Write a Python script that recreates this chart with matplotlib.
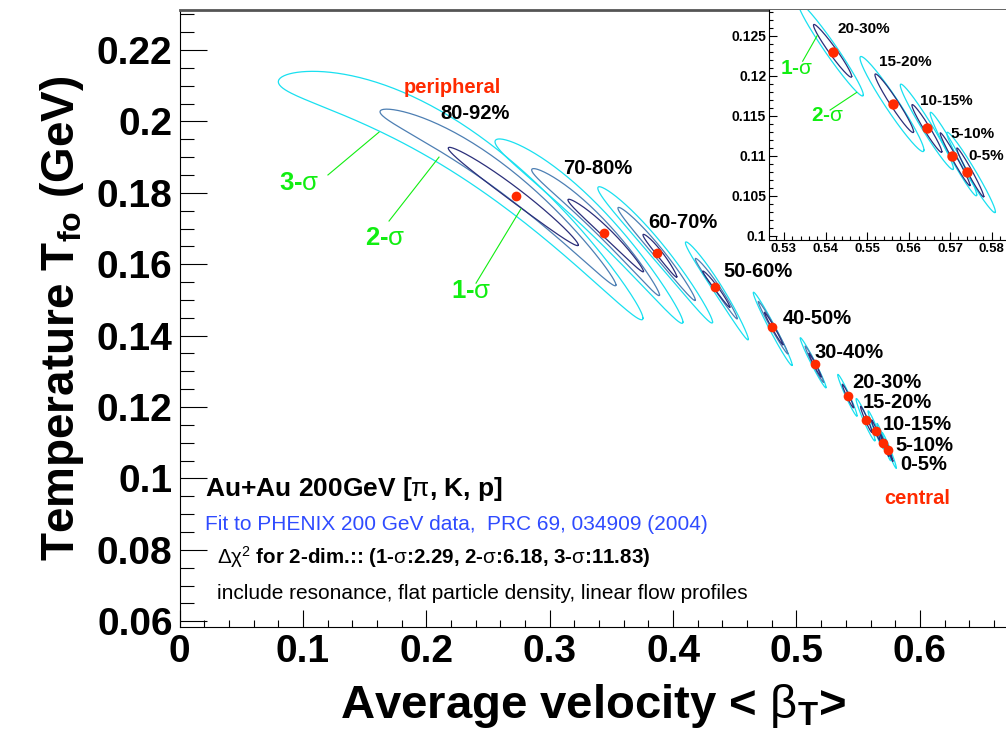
import numpy as np
import matplotlib.pyplot as plt
from matplotlib.ticker import MultipleLocator, FuncFormatter

plt.rcParams['font.family'] = ['Liberation Sans', 'DejaVu Sans']
plt.rcParams['mathtext.fontset'] = 'custom'
plt.rcParams['mathtext.rm'] = 'Liberation Sans'
plt.rcParams['mathtext.it'] = 'Liberation Sans:italic'
plt.rcParams['mathtext.bf'] = 'Liberation Sans:bold'

# best fit points (peripheral -> central)
cent = ['80-92%', '70-80%', '60-70%', '50-60%', '40-50%', '30-40%',
        '20-30%', '15-20%', '10-15%', '5-10%', '0-5%']
beta = [0.2727, 0.3443, 0.3872, 0.4340, 0.4804, 0.5150,
        0.5419, 0.5563, 0.5644, 0.5704, 0.5741]
temp = [0.1791, 0.1687, 0.1632, 0.1535, 0.1423, 0.1320,
        0.1230, 0.1165, 0.1134, 0.1099, 0.1079]

# contour outlines: (beta tip1, T tip1, beta tip2, T tip2, half width in T, bend)
sig1 = [(0.2178, 0.1925, 0.3232, 0.1654, 0.0024, 0.0008),
        (0.3148, 0.1780, 0.3760, 0.1580, 0.0018, 0.0010),
        (0.3756, 0.1682, 0.4030, 0.1565, 0.0013, 0.0005),
        (0.4240, 0.1580, 0.4460, 0.1480, 0.0009, 0.0003),
        (0.4740, 0.1465, 0.4890, 0.1375, 0.0007, 0.0),
        (0.5100, 0.1350, 0.5200, 0.1285, 0.0006, 0.0),
        (0.5371, 0.1263, 0.5463, 0.1199, 0.0008, 0.0),
        (0.5519, 0.1201, 0.5612, 0.1130, 0.0009, 0.0),
        (0.5608, 0.1163, 0.5680, 0.1105, 0.0007, 0.0),
        (0.5676, 0.1128, 0.5748, 0.1063, 0.0006, 0.0),
        (0.5716, 0.1109, 0.5781, 0.1049, 0.0006, 0.0)]
sig2 = [(0.1625, 0.2027, 0.3537, 0.1542, 0.0042, 0.0065),
        (0.2854, 0.1864, 0.3890, 0.1514, 0.0030, 0.0030),
        (0.3553, 0.1757, 0.4180, 0.1500, 0.0022, 0.0010),
        (0.4180, 0.1615, 0.4520, 0.1448, 0.0014, 0.0005),
        (0.4690, 0.1495, 0.4930, 0.1350, 0.0011, 0.0),
        (0.5070, 0.1370, 0.5220, 0.1270, 0.0009, 0.0)]
sig3 = [(0.0801, 0.2111, 0.3756, 0.1449, 0.0075, 0.0140),
        (0.2557, 0.1943, 0.4080, 0.1438, 0.0050, 0.0050),
        (0.3390, 0.1813, 0.4320, 0.1438, 0.0035, 0.0020),
        (0.4100, 0.1660, 0.4610, 0.1390, 0.0024, 0.0010),
        (0.4650, 0.1520, 0.4965, 0.1318, 0.0018, 0.0),
        (0.5030, 0.1393, 0.5240, 0.1255, 0.0013, 0.0),
        (0.5334, 0.1290, 0.5491, 0.1176, 0.0013, 0.0),
        (0.5483, 0.1222, 0.5637, 0.1107, 0.0015, 0.0),
        (0.5580, 0.1188, 0.5708, 0.1084, 0.0012, 0.0),
        (0.5652, 0.1153, 0.5764, 0.1051, 0.0011, 0.0),
        (0.5692, 0.1128, 0.5809, 0.1030, 0.0011, 0.0)]

label_pos = [(0.2111, 0.2021), (0.3108, 0.1867), (0.3797, 0.1718), (0.4404, 0.1581),
             (0.4891, 0.1447), (0.5150, 0.1354), (0.5450, 0.1270), (0.5539, 0.1214),
             (0.5701, 0.1152), (0.5798, 0.1091), (0.5838, 0.1040)]
inset_pos = [(0.5430, 0.1258), (0.5529, 0.1217), (0.5628, 0.1168),
             (0.5700, 0.1127), (0.5743, 0.1100)]

C1, C2, C3 = '#2b2f7a', '#4d7fb3', '#19e0f0'
GREEN = '#11ee11'
RED = '#ff2a00'


def outline(c):
    x1, y1, x2, y2, h, bend = c
    th = np.linspace(0, 2 * np.pi, 240)
    s = np.cos(th)
    x = (x1 + x2) / 2 + s * (x2 - x1) / 2
    y = (y1 + y2) / 2 + s * (y2 - y1) / 2 + bend * (1 - s ** 2) + h * np.sin(th)
    return x, y


def style_ticks(a, fs, pad, lmaj, lmin):
    a.tick_params(which='both', direction='in', width=0.8, top=False, right=False)
    a.tick_params(which='major', length=lmaj[0], axis='y')
    a.tick_params(which='minor', length=lmin[0], axis='y')
    a.tick_params(which='major', length=lmaj[1], axis='x')
    a.tick_params(which='minor', length=lmin[1], axis='x')
    a.tick_params(axis='both', labelsize=fs, pad=pad)
    for lab in a.get_xticklabels() + a.get_yticklabels():
        lab.set_fontweight('bold')


fmt = FuncFormatter(lambda v, p: '%g' % round(v, 4))

fig = plt.figure(figsize=(10.06, 7.36), dpi=100)
ax = fig.add_axes([0.17843, 0.1481, 0.82157, 0.8383])

for c in sig3:
    ax.plot(*outline(c), color=C3, lw=0.9)
for c in sig2:
    ax.plot(*outline(c), color=C2, lw=0.9)
for c in sig1:
    ax.plot(*outline(c), color=C1, lw=0.9)
ax.plot(beta, temp, 'o', color=RED, ms=7, mec='none', zorder=5)

for lab, (px, py) in zip(cent, label_pos):
    ax.text(px, py, lab, fontsize=14.5, fontweight='bold', ha='left', va='center')
ax.text(0.2208, 0.2094, 'peripheral', color=RED, fontsize=14.5, fontweight='bold',
        ha='center', va='center')
ax.text(0.5976, 0.0945, 'central', color=RED, fontsize=14.5, fontweight='bold',
        ha='center', va='center')

# sigma labels
ax.text(0.0968, 0.1827, r'3-$\mathrm{\sigma}$', color=GREEN, fontsize=18.5,
        fontweight='bold', ha='center', va='center')
ax.plot([0.1203, 0.1617], [0.1850, 0.1970], color=GREEN, lw=0.8)
ax.text(0.1665, 0.1673, r'2-$\mathrm{\sigma}$', color=GREEN, fontsize=18.5,
        fontweight='bold', ha='center', va='center')
ax.plot([0.1698, 0.2103], [0.1721, 0.1900], color=GREEN, lw=0.8)
ax.text(0.2362, 0.1525, r'1-$\mathrm{\sigma}$', color=GREEN, fontsize=18.5,
        fontweight='bold', ha='center', va='center')
ax.plot([0.2403, 0.2767], [0.1547, 0.1755], color=GREEN, lw=0.8)

ax.text(0.0207, 0.0970, r'Au+Au 200GeV [$\mathrm{\pi}$, K, p]', fontsize=19,
        fontweight='bold', ha='left', va='center')
ax.text(0.0207, 0.0872, 'Fit to PHENIX 200 GeV data,  PRC 69, 034909 (2004)',
        color='#2f4bff', fontsize=15, ha='left', va='center')
ax.text(0.0304, 0.0780,
        r'$\mathrm{\Delta\chi}^{2}$ for 2-dim.:: (1-$\mathrm{\sigma}$:2.29, '
        r'2-$\mathrm{\sigma}$:6.18, 3-$\mathrm{\sigma}$:11.83)',
        fontsize=14.8, fontweight='bold', ha='left', va='center')
ax.text(0.0304, 0.0679, 'include resonance, flat particle density, linear flow profiles',
        fontsize=15, ha='left', va='center')

ax.set_xlim(0, 0.6698)
ax.set_ylim(0.0584, 0.2312)
ax.xaxis.set_major_locator(MultipleLocator(0.1))
ax.xaxis.set_minor_locator(MultipleLocator(0.02))
ax.yaxis.set_major_locator(MultipleLocator(0.02))
ax.yaxis.set_minor_locator(MultipleLocator(0.005))
ax.xaxis.set_major_formatter(fmt)
ax.yaxis.set_major_formatter(fmt)
style_ticks(ax, 28, 5, (19.5, 12.5), (10, 5))
ax.spines['right'].set_visible(False)
ax.spines['top'].set_color('#555555')
ax.spines['top'].set_linewidth(2)
ax.set_xlabel(r'Average velocity < $\mathrm{\beta}_{\mathbf{T}}$>', fontsize=34,
              fontweight='bold', labelpad=9)
ax.set_ylabel(r'Temperature T$_{\mathbf{fo}}$ (GeV)', fontsize=33, fontweight='bold',
              labelpad=8)

# inset: central bins
ax2 = fig.add_axes([0.7644, 0.67391, 0.23559, 0.3125])
ax2.set_facecolor('white')
for c in sig3[6:]:
    ax2.plot(*outline(c), color=C3, lw=0.9)
for c in sig1[6:]:
    ax2.plot(*outline(c), color=C1, lw=0.9)
ax2.plot(beta[6:], temp[6:], 'o', color=RED, ms=7.5, mec='none', zorder=5)
for lab, (px, py) in zip(cent[6:], inset_pos):
    ax2.text(px, py, lab, fontsize=11, fontweight='bold', ha='left', va='center')
ax2.text(0.5331, 0.1209, r'1-$\mathrm{\sigma}$', color=GREEN, fontsize=15,
         fontweight='bold', ha='center', va='center')
ax2.plot([0.5345, 0.5380], [0.1218, 0.1250], color=GREEN, lw=0.8)
ax2.text(0.5406, 0.1150, r'2-$\mathrm{\sigma}$', color=GREEN, fontsize=15,
         fontweight='bold', ha='center', va='center')
ax2.plot([0.5411, 0.5475], [0.1157, 0.1179], color=GREEN, lw=0.8)

ax2.set_xlim(0.52639, 0.58345)
ax2.set_ylim(0.09946, 0.1282)
ax2.xaxis.set_major_locator(MultipleLocator(0.01))
ax2.xaxis.set_minor_locator(MultipleLocator(0.002))
ax2.yaxis.set_major_locator(MultipleLocator(0.005))
ax2.yaxis.set_minor_locator(MultipleLocator(0.001))
ax2.xaxis.set_major_formatter(fmt)
ax2.yaxis.set_major_formatter(fmt)
style_ticks(ax2, 10, 2, (5.5, 6), (3, 3))
ax2.tick_params(axis='x', labelsize=9.5)
ax2.spines['right'].set_visible(False)
ax2.spines['top'].set_visible(False)

fig.savefig('out.png', dpi=100)
